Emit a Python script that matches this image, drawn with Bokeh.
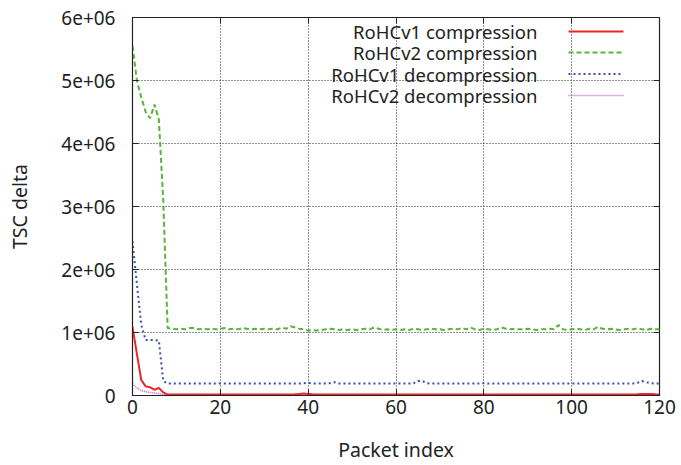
from bokeh.plotting import figure
from bokeh.models import (Range1d, FixedTicker, CustomJSTickFormatter, LinearAxis,
                          Label, Arrow)
from bokeh.embed import file_html
from bokeh.resources import INLINE

FONT = "Noto Sans"

packet_index = list(range(121))

rohcv1_comp = [
    1090000, 660000, 245000, 145000, 130000, 92000, 120000, 50000, 15000, 15000,
    15000, 15000, 15000, 15000, 15000, 15000, 15000, 15000, 15000, 15000,
    15000, 15000, 15000, 15000, 15000, 15000, 15000, 15000, 15000, 15000,
    15000, 15000, 15000, 15000, 15000, 15000, 15000, 18000, 22000, 30000,
    25000, 18000, 15000, 15000, 15000, 15000, 15000, 15000, 15000, 15000,
    15000, 15000, 15000, 15000, 15000, 15000, 15000, 15000, 15000, 15000,
    15000, 15000, 15000, 15000, 15000, 15000, 15000, 15000, 15000, 15000,
    15000, 15000, 15000, 15000, 15000, 15000, 15000, 15000, 15000, 15000,
    15000, 15000, 15000, 15000, 15000, 15000, 15000, 15000, 15000, 15000,
    15000, 15000, 15000, 15000, 15000, 15000, 15000, 15000, 15000, 15000,
    15000, 15000, 15000, 15000, 15000, 15000, 15000, 15000, 15000, 15000,
    15000, 15000, 15000, 15000, 15000, 18000, 25000, 25000, 22000, 18000,
    15000,
]

rohcv2_comp = [
    5550000, 5000000, 4730000, 4500000, 4400000, 4620000, 4380000, 3100000, 1070000, 1060000,
    1050000, 1060000, 1050000, 1070000, 1070000, 1050000, 1060000, 1050000, 1060000, 1050000,
    1060000, 1070000, 1050000, 1060000, 1050000, 1070000, 1060000, 1050000, 1060000, 1050000,
    1060000, 1050000, 1060000, 1050000, 1080000, 1060000, 1100000, 1080000, 1060000, 1050000,
    1030000, 1040000, 1030000, 1040000, 1050000, 1060000, 1050000, 1040000, 1050000, 1040000,
    1050000, 1040000, 1050000, 1060000, 1050000, 1080000, 1060000, 1040000, 1050000, 1040000,
    1050000, 1040000, 1050000, 1040000, 1060000, 1050000, 1040000, 1050000, 1060000, 1050000,
    1050000, 1040000, 1050000, 1060000, 1050000, 1070000, 1050000, 1080000, 1050000, 1040000,
    1060000, 1050000, 1040000, 1050000, 1080000, 1060000, 1050000, 1060000, 1050000, 1050000,
    1060000, 1050000, 1040000, 1050000, 1050000, 1060000, 1050000, 1120000, 1050000, 1040000,
    1050000, 1060000, 1050000, 1040000, 1060000, 1050000, 1090000, 1060000, 1050000, 1060000,
    1050000, 1040000, 1050000, 1060000, 1050000, 1070000, 1050000, 1040000, 1060000, 1050000,
    1050000,
]

rohcv1_decomp = [
    2450000, 1770000, 1120000, 880000, 880000, 880000, 870000, 230000, 190000, 190000,
    190000, 190000, 190000, 190000, 190000, 190000, 190000, 190000, 190000, 190000,
    190000, 190000, 190000, 190000, 190000, 190000, 190000, 190000, 190000, 190000,
    190000, 190000, 190000, 190000, 190000, 190000, 190000, 190000, 190000, 195000,
    200000, 190000, 190000, 190000, 190000, 195000, 210000, 190000, 190000, 190000,
    190000, 190000, 190000, 190000, 190000, 190000, 190000, 190000, 190000, 190000,
    190000, 190000, 190000, 190000, 195000, 230000, 230000, 195000, 190000, 190000,
    190000, 190000, 190000, 190000, 190000, 190000, 190000, 190000, 190000, 190000,
    195000, 190000, 190000, 190000, 190000, 190000, 190000, 190000, 190000, 190000,
    190000, 190000, 190000, 190000, 190000, 190000, 190000, 190000, 190000, 190000,
    190000, 190000, 190000, 190000, 190000, 190000, 190000, 190000, 190000, 190000,
    190000, 190000, 190000, 190000, 190000, 200000, 230000, 210000, 195000, 190000,
    190000,
]

rohcv2_decomp = [
    190000, 120000, 80000, 60000, 48000, 38000, 28000, 18000, 10000, 10000,
    10000, 10000, 10000, 10000, 10000, 10000, 10000, 10000, 10000, 10000,
    10000, 10000, 10000, 10000, 10000, 10000, 10000, 10000, 10000, 10000,
    10000, 10000, 10000, 10000, 10000, 10000, 10000, 12000, 20000, 28000,
    22000, 12000, 10000, 10000, 10000, 10000, 10000, 10000, 10000, 10000,
    10000, 10000, 10000, 10000, 10000, 10000, 10000, 10000, 10000, 10000,
    10000, 10000, 10000, 10000, 10000, 10000, 10000, 10000, 10000, 10000,
    10000, 10000, 10000, 10000, 10000, 10000, 10000, 10000, 10000, 10000,
    10000, 10000, 10000, 10000, 10000, 10000, 10000, 10000, 10000, 10000,
    10000, 10000, 10000, 10000, 10000, 10000, 10000, 10000, 10000, 10000,
    10000, 10000, 10000, 10000, 10000, 10000, 10000, 10000, 10000, 10000,
    10000, 10000, 10000, 10000, 10000, 20000, 28000, 28000, 22000, 15000,
    12000,
]

series_labels = ["RoHCv1 compression", "RoHCv2 compression",
                 "RoHCv1 decompression", "RoHCv2 decompression"]
x_ticks = [0, 20, 40, 60, 80, 100, 120]
y_ticks = [0, 1000000, 2000000, 3000000, 4000000, 5000000, 6000000]

p = figure(width=681, height=465, output_backend="svg", toolbar_location=None,
           x_range=Range1d(0, 120), y_range=Range1d(0, 6000000),
           min_border_left=132, min_border_right=22, min_border_top=17,
           min_border_bottom=69)
p.background_fill_color = "white"
p.border_fill_color = "white"
p.outline_line_color = "#222222"
p.outline_line_width = 1.2

styles = [
    dict(color="#e8262a", line_width=2.0, line_dash="solid"),
    dict(color="#58b43c", line_width=2.0, line_dash="5 3"),
    dict(color="#3450a8", line_width=2.0, line_dash="2 3"),
    dict(color="#c060c8", line_width=1.5, line_dash="1 1"),
]
series = [rohcv1_comp, rohcv2_comp, rohcv1_decomp, rohcv2_decomp]
draw_order = [3, 2, 1, 0]
for i in draw_order:
    st = styles[i]
    p.line(packet_index, series[i], line_color=st["color"], line_width=st["line_width"],
           line_dash=st["line_dash"])

# axes
for ax in (p.xaxis[0], p.yaxis[0]):
    ax.major_tick_in = 6
    ax.major_tick_out = 0
    ax.minor_tick_line_color = None
    ax.axis_line_color = "#222222"
    ax.major_tick_line_color = "#222222"
    ax.major_label_text_font = FONT
    ax.major_label_text_font_size = "19px"
    ax.major_label_text_color = "#222222"
    ax.axis_label_text_font = FONT
    ax.axis_label_text_font_size = "19.5px"
    ax.axis_label_text_font_style = "normal"
    ax.axis_label_text_color = "#222222"

p.xaxis.ticker = FixedTicker(ticks=x_ticks)
p.yaxis.ticker = FixedTicker(ticks=y_ticks)
p.yaxis.formatter = CustomJSTickFormatter(
    code="return tick == 0 ? '0' : (tick / 1e6).toFixed(0) + 'e+06';")
p.xaxis.axis_label = "Packet index"
p.yaxis.axis_label = "TSC delta"
p.xaxis.major_label_standoff = 4
p.xaxis.axis_label_standoff = 19
p.yaxis.major_label_standoff = 17
p.yaxis.axis_label_standoff = 25

# mirrored ticks (no labels)
blank = CustomJSTickFormatter(code="return '';")
top = LinearAxis(ticker=FixedTicker(ticks=x_ticks), formatter=blank,
                 major_tick_in=6, major_tick_out=0,
                 minor_tick_line_color=None, axis_line_color=None,
                 major_tick_line_color="#222222", major_label_standoff=0)
right = LinearAxis(ticker=FixedTicker(ticks=y_ticks), formatter=blank,
                   major_tick_in=6, major_tick_out=0,
                   minor_tick_line_color=None, axis_line_color=None,
                   major_tick_line_color="#222222", major_label_standoff=0)
p.add_layout(top, "above")
p.add_layout(right, "right")

# grid
for g in (p.xgrid[0], p.ygrid[0]):
    g.grid_line_color = "#222222"
    g.grid_line_dash = "1 2"
    g.grid_line_width = 1
p.xgrid.ticker = FixedTicker(ticks=x_ticks)
p.ygrid.ticker = FixedTicker(ticks=y_ticks)

# legend (gnuplot style: label right-aligned, sample to the right), in screen units
frame_h = 379
legend_rows = [32, 53, 74.5, 96]
for i, lab in enumerate(series_labels):
    sy = frame_h - (legend_rows[i] - 17)
    p.add_layout(Label(x=405, y=sy, x_units="screen", y_units="screen", text=lab,
                       text_align="right", text_baseline="middle",
                       text_font=FONT, text_font_size="18.5px", text_color="#222222"))
    st = styles[i]
    p.add_layout(Arrow(end=None, x_start=436, y_start=sy, x_end=491, y_end=sy,
                       start_units="screen", end_units="screen",
                       line_color=st["color"], line_width=st["line_width"],
                       line_dash=st["line_dash"]))

open("out.html", "w").write(file_html(p, INLINE))
